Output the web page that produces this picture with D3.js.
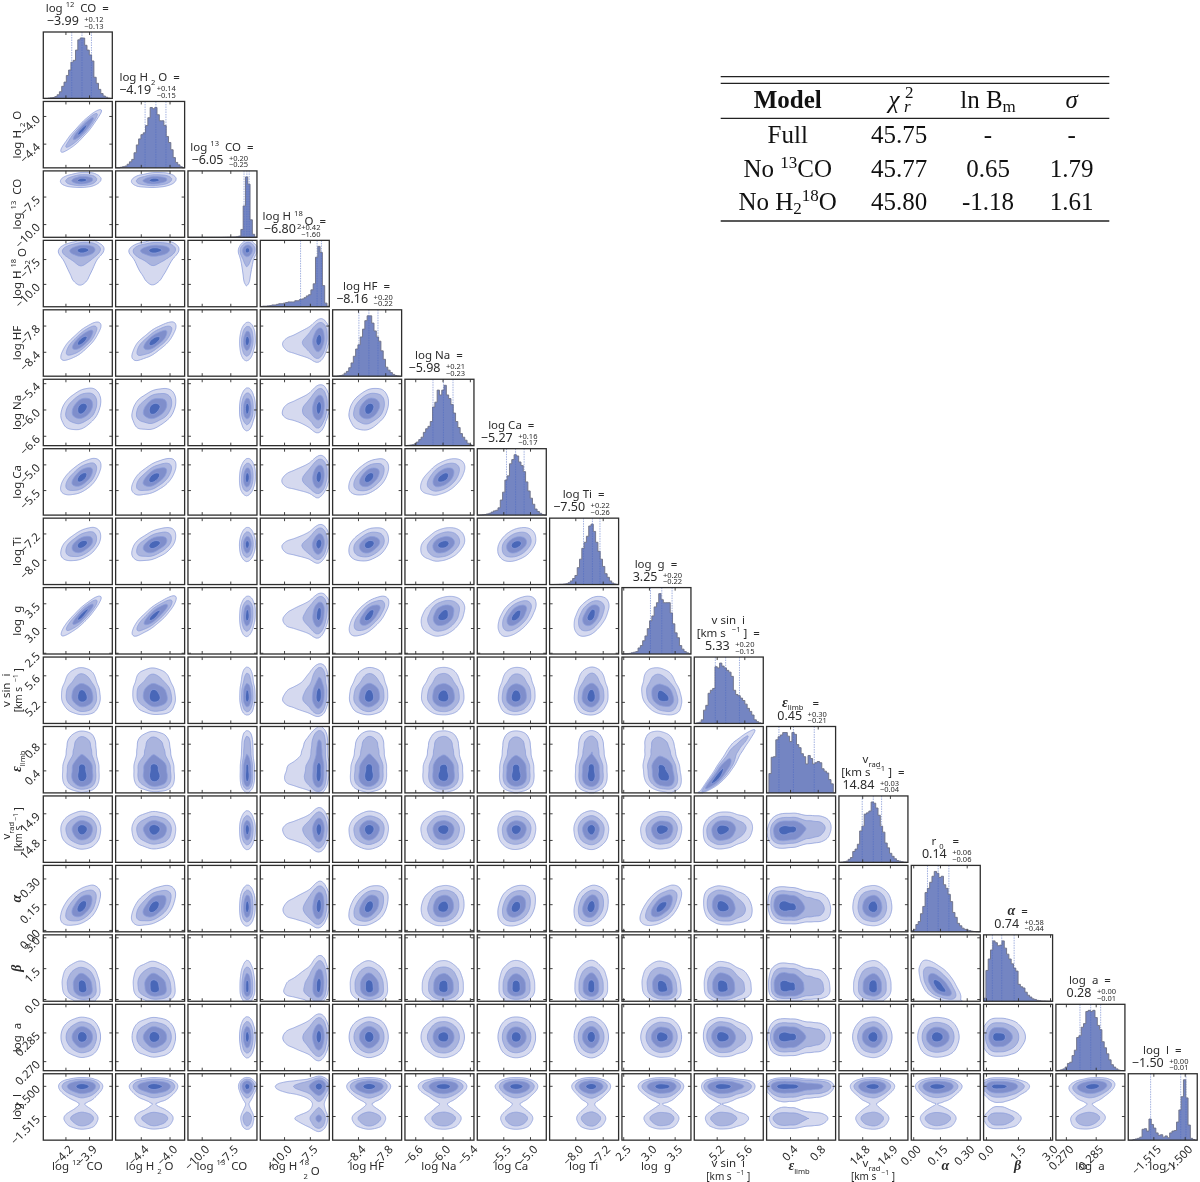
<!DOCTYPE html>
<html><head><meta charset="utf-8">
<style>
html,body{margin:0;padding:0;background:#fff}
svg{display:block;filter:blur(0.35px)}
text{font-family:"Noto Sans",sans-serif;fill:#2b2b2b;white-space:pre}
.tbl text,text.tbl{font-family:"Liberation Serif",serif;fill:#111}
</style>
<script src="https://cdn.jsdelivr.net/npm/d3@7"></script>
</head><body><svg id="c" width="1200" height="1182"></svg>
<script>
const medians  = ["−3.99","−4.19","−6.05","−6.80","−8.16","−5.98","−5.27","−7.50","3.25","5.33","0.45","14.84","0.14","0.74","0.28","−1.50"];
const plusErrs = ["+0.12","+0.14","+0.20","+0.42","+0.20","+0.21","+0.16","+0.22","+0.20","+0.20","+0.30","+0.03","+0.06","+0.58","+0.00","+0.00"];
const minusErrs= ["−0.13","−0.15","−0.25","−1.60","−0.22","−0.23","−0.17","−0.26","−0.22","−0.15","−0.21","−0.04","−0.06","−0.44","−0.01","−0.01"];
const qLow  = [-4.12,-4.34,-6.30,-8.40,-8.38,-6.21,-5.44,-7.76,3.03,5.18,0.24,14.80,0.08,0.30,0.2771,-1.5163];
const qMid  = [-3.99,-4.19,-6.05,-6.80,-8.16,-5.98,-5.27,-7.50,3.25,5.33,0.45,14.84,0.14,0.74,0.2825,-1.5019];
const qHigh = [-3.87,-4.05,-5.85,-6.38,-7.96,-5.77,-5.11,-7.28,3.45,5.53,0.75,14.87,0.20,1.32,0.2875,-1.4994];
const axisMin = [-4.481,-4.75,-11.2,-12.3,-8.958,-6.826,-5.987,-8.75,2.475,4.875,0.062,14.716,-0.011,-0.11,0.265,-1.527];
const axisMax = [-3.605,-3.79,-5.17,-5.62,-7.44,-5.31,-4.695,-6.736,3.817,5.875,1.058,14.965,0.376,3.12,0.2997,-1.494];
const tickValues = [[-4.2,-3.9],[-4.4,-4.0],[-10,-7.5],[-10,-7.5],[-8.4,-7.8],[-6.6,-6.0,-5.4],[-5.5,-5.0],[-8.0,-7.2],[2.5,3.0,3.5],[5.2,5.6],[0.4,0.8],[14.8,14.9],[0,0.15,0.30],[0,1.5,3.0],[0.270,0.285],[-1.515,-1.500]];
const tickDigits = [1,1,1,1,1,1,1,1,1,1,1,1,2,1,3,3];

const hist12CO = [0,0,.5,1,1.5,3,6,11,20,27,38,47,60,63,80,97,100,100,88,80,72,62,35,25,15,8,4,2,.5,0];
const histH2O  = [0,0,1,2,3,6,10,14,25,38,48,55,58,70,83,100,98,100,88,78,78,70,52,42,30,17,9,5,2,0];
const hist13CO = [0,0,0,0,0,0,0,0,0,0,0,0,0,0,0,.1,.2,.3,.4,.5,.6,1,2,13,52,100,88,29,5,.5];
const histH218O= [.5,1,1,1.5,2,3,3,4,5,5,6,7,8,8,8,10,10,12,13,15,18,20,28,38,82,100,90,35,6,1];
const histHF   = [0,0,.5,1,2,5,8,14,22,33,45,52,65,78,92,100,100,88,75,65,58,42,28,15,10,6,3,1,.5,0];
const histNa   = [0,.5,1,1.5,3,6,10,14,22,28,32,40,64,72,92,84,92,100,84,78,68,54,40,30,20,14,9,4,1.5,.5];
const histCa   = [0,.3,.5,1,2,3,5,7,8,12,25,38,58,65,85,92,100,98,88,82,72,55,40,28,18,10,6,3,1,.3];
const histTi   = [0,0,.2,.3,.5,.5,1,1.5,3,6,10,15,28,42,60,70,80,97,100,88,70,55,42,30,18,12,6,2.5,1,.3];
const histG    = [0,.3,.5,1,2,3,4,10,14,22,30,42,55,63,78,85,100,90,85,85,85,68,50,35,27,14,8,4,2,.5];
const histVsini= [0,1,2,6,22,30,50,55,58,94,92,100,95,92,88,85,78,55,48,46,42,38,32,25,20,14,6,3,1,0];
const histEps  = [0,32,59,60,88,93,96,100,100,94,85,100,97,80,75,65,60,48,62,57,48,50,52,50,40,36,33,22,15,0];
const histVrad = [0,.3,1,2,5,8,18,22,30,52,60,80,82,85,100,98,90,78,60,50,32,24,15,10,6,3,2,1,.3,0];
const histR0   = [2,4,12,17,30,42,65,72,82,92,100,97,90,92,78,72,62,50,32,24,14,10,6,4,3,2,1,.5,.2,0];
const histBeta = [5,51,70,85,100,97,92,93,100,88,78,70,62,55,50,28,24,22,15,10,7,4,3,1.5,1,.5,.5,.2,.1,0];
const histA    = [0,.5,1.5,3,6,12,14,25,34,55,58,72,78,98,100,98,100,88,75,68,48,38,28,18,10,6,3,1,.3,0];
const histL    = [0,0,1,2,3,5,18,19,15,35,26,20,12,8,9,5,7,4,12,15,16,30,50,72,100,70,25,3,1,0];
const histograms = [hist12CO,histH2O,hist13CO,histH218O,histHF,histNa,histCa,histTi,histG,histVsini,histEps,histVrad,histR0,histBeta,histA,histL];

// apparent tilt of each 2-D panel, row by row (lower triangle)
const tiltRows = [
 [],
 [.93],
 [.15,.15],
 [.15,.12,.1],
 [.8,.75,.1,.25],
 [.35,.35,.05,.2,.3],
 [.6,.6,.1,.2,.5,.5],
 [.5,.5,.05,.2,.35,.3,.35],
 [.9,.85,.1,.25,.65,.3,.55,.45],
 [-.05,-.1,0,.15,.05,0,.05,.05,-.25],
 [0,-.05,0,.1,.05,0,0,0,-.2,.92],
 [0,0,0,.05,.05,0,.05,0,.05,.1,.1],
 [.5,.5,.05,.15,.35,.1,.25,.2,.55,-.15,-.1,0],
 [-.1,-.1,0,.15,-.05,0,0,0,-.1,-.05,-.05,0,-.55],
 [0,0,0,.05,0,0,0,0,0,-.05,0,0,0,0],
 [0,0,0,.03,0,0,0,0,0,0,0,0,0,0,.25]
];

const massLevels = [.865,.675,.393,.118];
const levelFills = ["#d5d9ef","#aab4de","#7f8ecb","#4967b8"];

const n="n",u="u",d="d",b="b",t="t";
const H18=[["log H ",n],["18",u],["2",t],["O",n]];
const axisLabels=[
 [[["log ",n],["12",u],[" CO",n]]],
 [[["log H ",n],["2",d],["O",n]]],
 [[["log ",n],["13",u],[" CO",n]]],
 [H18],
 [[["log HF",n]]],
 [[["log Na",n]]],
 [[["log Ca",n]]],
 [[["log Ti",n]]],
 [[["log  g",n]]],
 [[["v sin  i",n]],[["[km s  ",n],["−1",u],["]",n]]],
 [[["ε",b],["limb",d]]],
 [[["v",n],["rad",d]],[["[km s  ",n],["−1",u],["]",n]]],
 [[["α",b]]],
 [[["β",b]]],
 [[["log  a",n]]],
 [[["log  l",n]]]
];
const titleLabels=axisLabels.map(l=>l);
titleLabels[12]=[[["r ",n],["0",d]]];
titleLabels[13]=[[["α",b]]];
titleLabels[14]=[[["log  a",n]]];

const tableColumns=[787.7,899,988,1071.7];
const tableRows=[["Full","45.75","-","-"],[null,"45.77","0.65","1.79"],[null,"45.80","-1.18","1.61"]];

// ---- drawing ----
const svg=d3.select("#c");
const N=16, panelW=69, panelH=66.4, stepX=72.33, stepY=69.45, left0=43.3, top0=32;
const L=i=>left0+i*stepX, T=i=>top0+i*stepY;
const xScales=d3.range(N).map(i=>d3.scaleLinear([axisMin[i],axisMax[i]],[L(i),L(i)+panelW]));
const yScales=d3.range(N).map(i=>d3.scaleLinear([axisMin[i],axisMax[i]],[0,0])); // range set per row
yScales.forEach((s,i)=>s.range([T(i)+panelH,T(i)]));
const fmt=i=>v=>d3.format("."+tickDigits[i]+"f")(v).replace("-","−");

function writeSegs(sel,segs,size){
  segs.forEach(([txt,k])=>{
    const ts=sel.append("tspan").text(txt);
    if(k===n){ts.attr("font-size",size);}
    if(k===u){ts.attr("font-size",size*.66).attr("dy",-size*.42);sel.append("tspan").attr("dy",size*.42).attr("font-size",size).text(" ");}
    if(k===d){ts.attr("font-size",size*.66).attr("dy",size*.32);sel.append("tspan").attr("dy",-size*.32).attr("font-size",size).text(" ");}
    if(k===t){ts.attr("font-size",size*.66).attr("dy",size*.74).attr("dx",-size*.75);sel.append("tspan").attr("dy",-size*.32).attr("font-size",size).text(" ");}
    if(k===b){ts.attr("font-size",size*1.22).attr("font-weight","bold").attr("font-style","italic").attr("font-family","Liberation Serif");}
  });
  return sel;
}

// smoothed density on a pixel grid derived from the histogram
function profile(h,cells){
  const sig=1.15, s=h.map((_,i)=>{let a=0,w=0;for(let j=0;j<h.length;j++){const g=Math.exp(-.5*((i-j)/sig)**2);a+=g*h[j];w+=g;}return a/w;});
  const f=d3.range(cells).map(c=>{const p=Math.max(0,Math.min(28.999,(c+.5)/cells*30-.5)),k=Math.floor(p);return s[k]*(1-(p-k))+s[k+1]*(p-k)+1e-6;});
  const tot=d3.sum(f);let cum=0;
  const z=f.map(v=>{cum+=v;return normalQuantile((cum-v/2)/tot);});
  return {f,z};
}
function normalQuantile(p){
  p=Math.min(1-1e-4,Math.max(1e-4,p));
  const q=Math.min(p,1-p),r=Math.sqrt(-2*Math.log(q));
  const x=r-(2.515517+.802853*r+.010328*r*r)/(1+1.432788*r+.189269*r*r+.001308*r*r*r);
  return p<.5?-x:x;
}
const nx=69, ny=66;
const xProf=histograms.map(h=>profile(h,nx)), yProf=histograms.map(h=>profile(h,ny));
const pathGen=d3.geoPath();

for(let row=0;row<N;row++){
  for(let col=0;col<=row;col++){
    const x=xScales[col], y=yScales[row], g=svg.append("g");
    if(col===row){
      const edges=d3.range(31).map(i=>axisMin[col]+(axisMax[col]-axisMin[col])*i/30);
      const hy=d3.scaleLinear([0,110],[T(row)+panelH,T(row)]);
      const vals=[...histograms[col],histograms[col][29]];
      const pts=edges.map((e,i)=>({e,v:vals[i]}));
      g.append("path").datum(pts).attr("fill","#7485c2").attr("d",d3.area().curve(d3.curveStepAfter).x(p=>x(p.e)).y0(hy(0)).y1(p=>hy(p.v)));
      g.append("path").datum(pts).attr("fill","none").attr("stroke","#6d7186").attr("stroke-width",.9).attr("d",d3.line().curve(d3.curveStepAfter).x(p=>x(p.e)).y(p=>hy(p.v)));
      [qLow[col],qMid[col],qHigh[col]].forEach(q=>{
        g.append("line").attr("x1",x(q)).attr("x2",x(q)).attr("y1",T(row)).attr("y2",T(row)+panelH)
         .attr("stroke","#4c68c4").attr("stroke-opacity",.65).attr("stroke-width",.8).attr("stroke-dasharray","1.5,1");
      });
    } else {
      const tilt=tiltRows[row][col], px=xProf[col], py=yProf[row];
      const vals=new Float64Array(nx*ny), norm=1-tilt*tilt;
      for(let j=0;j<ny;j++){const jj=ny-1-j, fy=py.f[jj], v=Math.max(-3.4,Math.min(3.4,py.z[jj]));
        for(let i=0;i<nx;i++){const w=Math.max(-3.4,Math.min(3.4,px.z[i]));
          vals[i+j*nx]=px.f[i]*fy*Math.exp(-(tilt*tilt*(w*w+v*v)-2*tilt*w*v)/(2*norm));}}
      const sorted=Array.from(vals).sort((a,b)=>b-a), total=d3.sum(sorted);
      const th=massLevels.map(m=>{let c=0;for(const s of sorted){c+=s;if(c>=m*total)return s;}return 0;});
      const cs=d3.contours().size([nx,ny]).smooth(true).thresholds(th)(vals);
      const cg=g.append("g").attr("transform",`translate(${L(col)},${T(row)}) scale(${panelW/nx},${panelH/ny})`);
      cs.forEach((c,i)=>cg.append("path").attr("d",pathGen(c)).attr("fill",levelFills[i]).attr("stroke","#8c9ddb").attr("stroke-width",.8));
    }
    // frame and inward ticks
    g.append("rect").attr("x",L(col)).attr("y",T(row)).attr("width",panelW).attr("height",panelH)
      .attr("fill","none").attr("stroke","#2e2e2e").attr("stroke-width",1.3);
    const axT=g.append("g").attr("transform",`translate(0,${T(row)})`).call(d3.axisTop(x).tickValues(tickValues[col]).tickSize(-3).tickFormat(""));
    const axB=g.append("g").attr("transform",`translate(0,${T(row)+panelH})`).call(d3.axisBottom(x).tickValues(tickValues[col]).tickSize(-3).tickFormat(row===N-1?fmt(col):""));
    const axes=[axT,axB];
    if(row===N-1){
      axB.selectAll("text").attr("x",0).attr("y",0).attr("dy",0).attr("text-anchor","end").attr("font-size",11.5)
        .attr("font-family","Noto Sans").attr("fill","#2b2b2b")
        .attr("transform","translate(8,10) rotate(-45)");
    }
    if(col!==row){
      const axL=g.append("g").attr("transform",`translate(${L(col)},0)`).call(d3.axisLeft(y).tickValues(tickValues[row]).tickSize(-3).tickFormat(col===0?fmt(row):""));
      const axR=g.append("g").attr("transform",`translate(${L(col)+panelW},0)`).call(d3.axisRight(y).tickValues(tickValues[row]).tickSize(-3).tickFormat(""));
      axes.push(axL,axR);
      if(col===0){
        axL.selectAll("text").attr("x",0).attr("y",0).attr("dy","0.32em").attr("text-anchor","end").attr("font-size",11.5)
          .attr("font-family","Noto Sans").attr("fill","#2b2b2b")
          .attr("transform","translate(-5,1) rotate(-45)");
      }
    }
    axes.forEach(a=>{a.select(".domain").remove();a.selectAll("line").attr("stroke","#2e2e2e").attr("stroke-width",.9);});
  }
}

// titles above the diagonal
for(let i=0;i<N;i++){
  const cx=L(i)+panelW/2-.5, top=T(i), lines=titleLabels[i];
  svg.append("text").attr("x",cx+1.5).attr("y",top-7).attr("text-anchor","end").attr("font-size",12.5).text(medians[i]);
  svg.append("text").attr("x",cx+7).attr("y",top-10).attr("font-size",7.5).text(plusErrs[i]);
  svg.append("text").attr("x",cx+7).attr("y",top-3.5).attr("font-size",7.5).text(minusErrs[i]);
  lines.forEach((segs,k)=>{
    const yy=top-20-(lines.length-1-k)*13;
    const last=k===lines.length-1?[...segs,["  =",n]]:segs;
    writeSegs(svg.append("text").attr("x",cx).attr("y",yy).attr("text-anchor","middle"),last,11.5);
  });
}
// bottom labels
for(let i=0;i<N;i++){
  const cx=L(i)+panelW/2-.5, lines=axisLabels[i];
  lines.forEach((segs,k)=>{
    const two=lines.length>1;
    writeSegs(svg.append("text").attr("x",cx).attr("y",two?(1167+k*12.5):1170).attr("text-anchor","middle"),segs,two&&k===1?10:11.5);
  });
}
// left labels
for(let i=1;i<N;i++){
  const cy=T(i)+panelH/2, lines=axisLabels[i];
  lines.forEach((segs,k)=>{
    const two=lines.length>1, xx=two?(10+k*12):21;
    writeSegs(svg.append("text").attr("text-anchor","middle").attr("transform",`translate(${xx},${cy}) rotate(-90)`),segs,two&&k===1?10:11.5);
  });
}

// table
const tb=svg.append("g").attr("class","tbl");
[[76.7,1.2],[83.3,1.2],[118.3,1.3],[221,1.6]].forEach(([yy,w])=>tb.append("line").attr("x1",720.7).attr("x2",1109.3).attr("y1",yy).attr("y2",yy).attr("stroke","#222").attr("stroke-width",w));
const txt=(x,y,a="middle")=>tb.append("text").attr("class","tbl").attr("x",x).attr("y",y).attr("text-anchor",a).attr("font-size",25);
const [c0,c1,c2,c3]=tableColumns;
txt(c0,108.3).attr("font-weight","bold").text("Model");
const chi=txt(c1-5,108.3);chi.append("tspan").attr("font-style","italic").text("χ");
tb.append("text").attr("class","tbl").attr("x",c1+6).attr("y",98).attr("font-size",17).text("2");
tb.append("text").attr("class","tbl").attr("x",c1+5).attr("y",112).attr("font-size",17).attr("font-style","italic").text("r");
const lnb=txt(c2,108.3);lnb.append("tspan").text("ln B");lnb.append("tspan").attr("font-size",17).attr("dy",4).text("m");
txt(c3,108.3).attr("font-style","italic").text("σ");
const rowY=[142.7,176.7,210];
txt(c0,rowY[0]).text("Full");
const r13=txt(c0,rowY[1]);r13.append("tspan").text("No ");r13.append("tspan").attr("font-size",17).attr("dy",-9).text("13");r13.append("tspan").attr("dy",9).text("CO");
const r18=txt(c0,rowY[2]);r18.append("tspan").text("No H");r18.append("tspan").attr("font-size",17).attr("dy",4).text("2");r18.append("tspan").attr("font-size",17).attr("dy",-13).text("18");r18.append("tspan").attr("dy",9).text("O");
tableRows.forEach((r,i)=>{[c1,c2,c3].forEach((c,j)=>txt(c,rowY[i]).text(r[j+1]));});
</script></body></html>
